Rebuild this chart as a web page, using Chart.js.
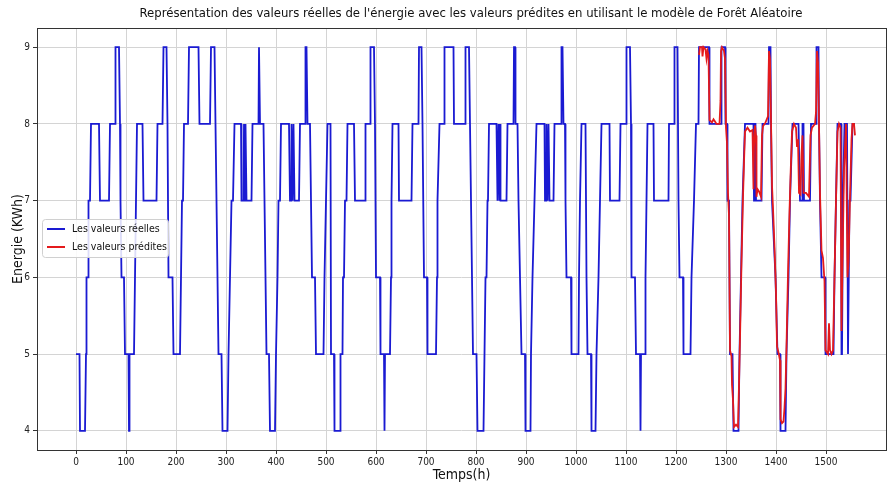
<!DOCTYPE html>
<html>
<head>
<meta charset="utf-8">
<script src="https://cdn.jsdelivr.net/npm/chart.js@4.4.1/dist/chart.umd.min.js"></script>
<style>
  html, body { margin: 0; padding: 0; background: #ffffff; }
  #wrap { width: 887px; height: 486px; position: relative; }
</style>
</head>
<body>
<div id="wrap"><canvas id="c" width="887" height="486"></canvas></div>
<script>
// ---- data (vertices) ----
const realX = [0,7,8,18,20,21,24,25,28,30,46,48,66,68,78,79,86,88,89,91,96,98,105,106,107,116,118,120,122,133,135,161,163,173,175,181,183,185,193,195,208,210,212,214,216,224,226,245,247,268,270,277,279,281,283,285,291,293,303,305,308,311,314,317,330,331,335,336,338,339,341,351,353,365,366,368,375,377,379,381,386,388,398,400,403,405,408,410,426,428,430,431,433,435,437,446,448,458,459,461,463,468,470,472,478,480,495,497,500,503,509,510,516,517,528,529,533,534,536,538,541,543,556,558,578,579,588,589,596,598,600,608,609,616,617,618,628,630,631,633,645,646,671,673,685,686,691,693,696,702,703,720,722,723,727,736,737,755,756,778,779,786,788,790,792,794,801,803,815,817,819,821,823,824,826,841,843,845,847,848,849,861,863,875,876,878,879,883,885,888,891,898,899,909,910,913,917,921,937,938,940,941,943,945,947,955,957,970,971,973,975,978,979,981,990,991,1005,1006,1008,1011,1019,1021,1023,1030,1031,1039,1041,1045,1048,1051,1067,1068,1087,1089,1100,1101,1108,1110,1111,1118,1120,1128,1129,1130,1138,1139,1141,1143,1155,1156,1185,1186,1196,1197,1203,1205,1207,1214,1215,1229,1231,1236,1240,1245,1246,1266,1267,1290,1291,1298,1299,1302,1303,1306,1308,1313,1315,1325,1327,1330,1333,1338,1355,1356,1357,1359,1360,1371,1373,1385,1386,1389,1390,1392,1399,1403,1408,1409,1419,1421,1425,1428,1433,1445,1448,1452,1453,1455,1456,1468,1470,1480,1481,1485,1486,1488,1491,1498,1499,1515,1517,1520,1523,1530,1531,1532,1534,1537,1542,1544,1545,1547,1549,1553,1558];
const realY = [5,5,4,4,5,6,6,7,7,8,8,7,7,8,8,9,9,8,7,6,6,5,5,4,5,5,6,7,8,8,7,7,8,8,9,9,8,6,6,5,5,6,7,7,8,8,9,9,8,8,9,9,8,7,6,5,5,4,4,5,6,7,7,8,8,7,7,8,7,8,7,7,8,8,9,8,8,7,6,5,5,4,4,5,6,7,7,8,8,7,7,8,7,8,7,7,8,8,9,9,8,8,7,6,6,5,5,6,7,8,8,5,5,4,4,5,5,6,6,7,7,8,8,7,7,8,8,9,9,8,6,6,5,5,4,5,5,6,7,8,8,7,7,8,8,9,9,8,6,6,5,5,6,7,8,8,9,9,8,8,9,9,8,7,6,5,5,4,4,5,6,6,7,7,8,8,7,8,7,8,7,7,8,8,9,9,8,8,7,6,5,5,4,4,5,6,7,8,8,7,7,8,7,8,7,7,8,8,9,9,8,8,7,6,6,5,5,6,7,8,8,6,5,5,4,4,5,6,7,8,8,7,7,8,8,9,9,8,6,6,5,5,4,5,5,6,7,8,8,7,7,8,8,9,9,7,6,6,5,5,6,7,8,8,9,9,8,8,9,9,8,8,7,7,5,5,4,4,5,6,7,8,8,7,8,8,7,7,8,8,9,9,8,7,6,5,5,4,4,5,6,7,8,8,7,7,8,8,7,7,8,8,9,9,8,7,6,6,5,5,6,7,8,8,5,5,7,8,8,5,5,7,7,8,8];
const predX = [1246,1248,1252,1253,1255,1259,1261,1263,1265,1267,1272,1275,1278,1281,1287,1289,1290,1292,1296,1298,1300,1302,1304,1306,1308,1311,1312,1314,1316,1320,1324,1326,1328,1331,1334,1336,1338,1343,1348,1353,1355,1356,1358,1360,1361,1363,1366,1370,1372,1374,1379,1384,1386,1388,1390,1392,1394,1397,1400,1402,1405,1408,1409,1412,1415,1417,1419,1421,1424,1427,1429,1432,1436,1440,1442,1444,1446,1449,1451,1453,1455,1460,1466,1469,1472,1478,1480,1482,1484,1486,1488,1491,1494,1497,1499,1504,1506,1507,1508,1511,1514,1517,1520,1523,1526,1529,1531,1533,1536,1540,1543,1545,1548,1551,1553,1556,1558];
const predY = [8.9,9,9,8.88,9,8.97,8.85,8.95,8.9,8.05,8.02,8.06,8.03,8,8,8.3,8.95,9,8.95,8.85,7.95,7.75,7.1,6.8,5.05,4.97,4.6,4.4,4.05,4.08,4.05,4.6,5.2,6.2,7.05,7.5,7.9,7.95,7.9,7.92,7.15,7.7,7.98,7.85,7.05,7.15,7.12,7.05,7.85,7.97,8.02,8.1,8.95,8.85,8.05,7.2,6.9,6.4,5.8,5.1,5.02,4.92,4.15,4.1,4.12,4.3,4.55,5.1,6.05,6.85,7.3,7.9,8,7.95,7.7,7.8,7.1,7.08,7.6,7.85,7.1,7.1,7.05,7.85,7.95,8,8.15,8.95,8.8,8,7.1,6.35,6.25,5.95,5.05,5,5.4,5.4,5.05,5,5.05,6,7,7.9,8,7.95,5.3,6.2,7.4,8,6,6.2,7.05,7.8,8,8,7.85];
const xTicks = [0,100,200,300,400,500,600,700,800,900,1000,1100,1200,1300,1400,1500];
const yTicks = [4,5,6,7,8,9];
const labelReal = 'Les valeurs réelles';
const labelPred = 'Les valeurs prédites';
const chartTitle = "Représentation des valeurs réelles de l'énergie avec les valeurs prédites en utilisant le modèle de Forêt Aléatoire";
const xTitle = 'Temps(h)';
const yTitle = 'Energie (KWh)';

const FONT = "'Liberation Sans Narrow', 'DejaVu Sans Condensed', 'Roboto Condensed', 'Liberation Sans', sans-serif";

const toPts = (xs, ys) => xs.map((x, i) => ({ x: x, y: ys[i] }));

const framePlugin = {
  id: 'frame',
  afterDatasetsDraw(chart) {
    const { ctx, chartArea: a } = chart;
    ctx.save();
    ctx.strokeStyle = '#333333';
    ctx.lineWidth = 1;
    ctx.strokeRect(Math.round(a.left) + 0.5, Math.round(a.top) + 0.5, Math.round(a.right - a.left), Math.round(a.bottom - a.top));
    ctx.restore();
  }
};

const titlePlugin = {
  id: 'axTitle',
  afterDraw(chart) {
    const { ctx } = chart;
    ctx.save();
    ctx.font = "13px " + FONT;
    ctx.fillStyle = '#111';
    ctx.textAlign = 'center';
    ctx.textBaseline = 'middle';
    ctx.fillText(chartTitle, 471, 14);
    ctx.restore();
  }
};

const legendPlugin = {
  id: 'boxLegend',
  afterDraw(chart) {
    const { ctx } = chart;
    const x0 = 42, y0 = 219, w = 126, h = 38;
    ctx.save();
    ctx.fillStyle = 'rgba(255,255,255,0.85)';
    ctx.strokeStyle = '#d0d0d0';
    ctx.lineWidth = 1;
    ctx.beginPath();
    ctx.roundRect(x0 + 0.5, y0 + 0.5, w, h, 3);
    ctx.fill();
    ctx.stroke();
    const ds = chart.data.datasets;
    ctx.font = "10.5px " + FONT;
    ctx.textBaseline = 'middle';
    ds.forEach((d, i) => {
      const yy = y0 + 10 + i * 18;
      ctx.strokeStyle = d.borderColor;
      ctx.lineWidth = 2;
      ctx.beginPath();
      ctx.moveTo(x0 + 5, yy);
      ctx.lineTo(x0 + 23, yy);
      ctx.stroke();
      ctx.fillStyle = '#111';
      ctx.fillText(d.label, x0 + 30, yy);
    });
    ctx.restore();
  }
};

new Chart(document.getElementById('c'), {
  type: 'line',
  data: {
    datasets: [
      { label: labelReal, data: toPts(realX, realY), borderColor: '#1a1ad2', borderWidth: 1.8, pointRadius: 0, tension: 0, order: 1, fill: false },
      { label: labelPred, data: toPts(predX, predY), borderColor: '#e41a1c', borderWidth: 1.8, pointRadius: 0, tension: 0, order: 0, fill: false }
    ]
  },
  options: {
    responsive: false,
    animation: false,
    devicePixelRatio: 1,
    layout: { padding: { left: 0, right: 1, top: 28, bottom: 0 } },
    plugins: {
      legend: { display: false },
      tooltip: { enabled: false },
      title: { display: false }
    },
    scales: {
      x: {
        type: 'linear',
        min: -78,
        max: 1620,
        afterBuildTicks: (s) => { s.ticks = xTicks.map(v => ({ value: v })); },
        afterFit: (s) => { s.height = 36; },
        ticks: { color: '#222', font: { family: FONT, size: 10 }, padding: 2, maxRotation: 0, autoSkip: false,
                 callback: (v) => String(v) },
        grid: { color: '#d4d4d4', lineWidth: 1, drawTicks: true, tickLength: 4, tickColor: '#333' },
        border: { display: false },
        title: { display: true, text: xTitle, color: '#111', font: { family: FONT, size: 14 }, padding: { top: 0, bottom: 2 } }
      },
      y: {
        type: 'linear',
        min: 3.75,
        max: 9.25,
        afterBuildTicks: (s) => { s.ticks = yTicks.map(v => ({ value: v })); },
        afterFit: (s) => { s.width = 37; },
        ticks: { color: '#222', font: { family: FONT, size: 10 }, padding: 3, callback: (v) => String(v) },
        grid: { color: '#d4d4d4', lineWidth: 1, drawTicks: true, tickLength: 4, tickColor: '#333' },
        border: { display: false },
        title: { display: true, text: yTitle, color: '#111', font: { family: FONT, size: 14 }, padding: { top: 10, bottom: 0 } }
      }
    }
  },
  plugins: [framePlugin, titlePlugin, legendPlugin]
});
</script>
</body>
</html>
